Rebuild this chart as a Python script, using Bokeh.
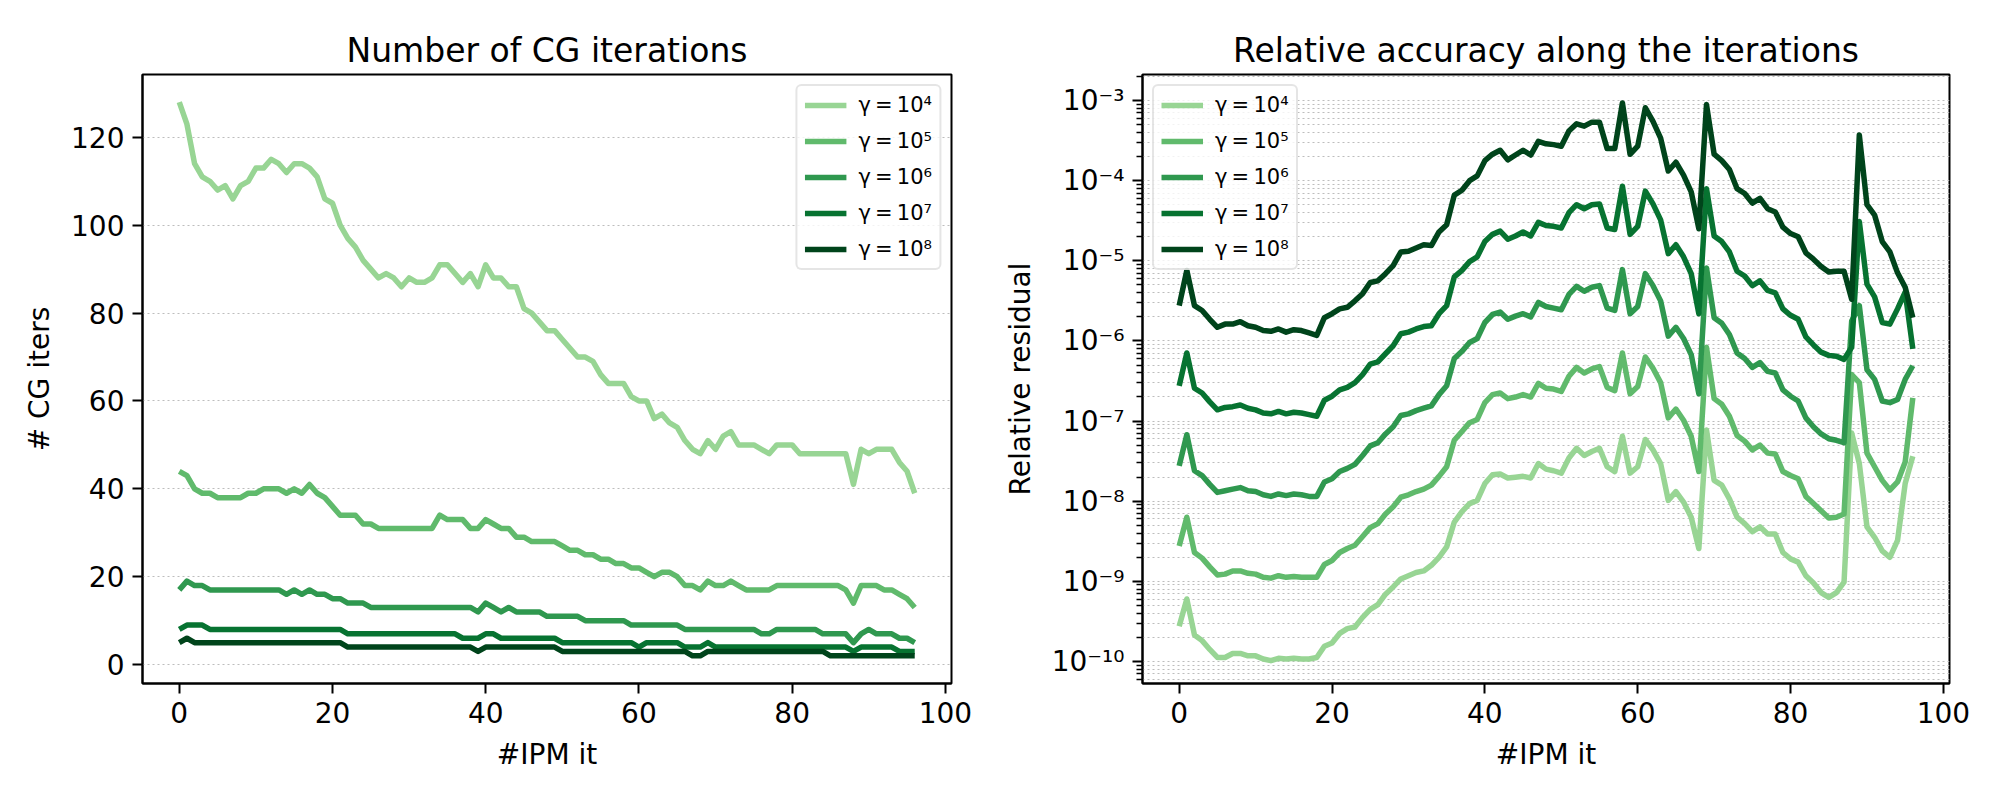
from bokeh.plotting import figure
from bokeh.layouts import row
from bokeh.models import Range1d, FixedTicker, CustomJSTickFormatter
from bokeh.embed import file_html
from bokeh.resources import INLINE

FONT = "DejaVu Sans"

# ---------------- data ----------------
ipm_it = list(range(97))

series_labels = ["γ\u2009=\u200910⁴", "γ\u2009=\u200910⁵", "γ\u2009=\u200910⁶",
                 "γ\u2009=\u200910⁷", "γ\u2009=\u200910⁸"]
series_colors = ["#98d594", "#60ba6c", "#2f984f", "#077331", "#00441b"]

# Number of CG iterations per IPM iteration
cg_g4 = [128, 123, 114, 111, 110, 108, 109, 106, 109, 110,
         113, 113, 115, 114, 112, 114, 114, 113, 111, 106,
         105, 100, 97, 95, 92, 90, 88, 89, 88, 86,
         88, 87, 87, 88, 91, 91, 89, 87, 89, 86,
         91, 88, 88, 86, 86, 81, 80, 78, 76, 76,
         74, 72, 70, 70, 69, 66, 64, 64, 64, 61,
         60, 60, 56, 57, 55, 54, 51, 49, 48, 51,
         49, 52, 53, 50, 50, 50, 49, 48, 50, 50,
         50, 48, 48, 48, 48, 48, 48, 48, 41, 49,
         48, 49, 49, 49, 46, 44, 39]
cg_g5 = [44, 43, 40, 39, 39, 38, 38, 38, 38, 39,
         39, 40, 40, 40, 39, 40, 39, 41, 39, 38,
         36, 34, 34, 34, 32, 32, 31, 31, 31, 31,
         31, 31, 31, 31, 34, 33, 33, 33, 31, 31,
         33, 32, 31, 31, 29, 29, 28, 28, 28, 28,
         27, 26, 26, 25, 25, 24, 24, 23, 23, 22,
         22, 21, 20, 21, 21, 20, 18, 18, 17, 19,
         18, 18, 19, 18, 17, 17, 17, 17, 18, 18,
         18, 18, 18, 18, 18, 18, 18, 17, 14, 18,
         18, 18, 17, 17, 16, 15, 13]
cg_g6 = [17, 19, 18, 18, 17, 17, 17, 17, 17, 17,
         17, 17, 17, 17, 16, 17, 16, 17, 16, 16,
         15, 15, 14, 14, 14, 13, 13, 13, 13, 13,
         13, 13, 13, 13, 13, 13, 13, 13, 13, 12,
         14, 13, 12, 13, 12, 12, 12, 12, 11, 11,
         11, 11, 11, 10, 10, 10, 10, 10, 10, 9,
         9, 9, 9, 9, 9, 9, 8, 8, 8, 8,
         8, 8, 8, 8, 8, 8, 7, 7, 8, 8,
         8, 8, 8, 8, 7, 7, 7, 7, 5, 7,
         8, 7, 7, 7, 6, 6, 5]
cg_g7 = [8, 9, 9, 9, 8, 8, 8, 8, 8, 8,
         8, 8, 8, 8, 8, 8, 8, 8, 8, 8,
         8, 8, 7, 7, 7, 7, 7, 7, 7, 7,
         7, 7, 7, 7, 7, 7, 7, 6, 6, 6,
         7, 7, 6, 6, 6, 6, 6, 6, 6, 6,
         5, 5, 5, 5, 5, 5, 5, 5, 5, 5,
         4, 5, 5, 5, 5, 5, 4, 4, 4, 5,
         4, 4, 4, 4, 4, 4, 4, 4, 4, 4,
         4, 4, 4, 4, 4, 4, 4, 4, 3, 4,
         4, 4, 4, 4, 3, 3, 3]
cg_g8 = [5, 6, 5, 5, 5, 5, 5, 5, 5, 5,
         5, 5, 5, 5, 5, 5, 5, 5, 5, 5,
         5, 5, 4, 4, 4, 4, 4, 4, 4, 4,
         4, 4, 4, 4, 4, 4, 4, 4, 4, 3,
         4, 4, 4, 4, 4, 4, 4, 4, 4, 4,
         3, 3, 3, 3, 3, 3, 3, 3, 3, 3,
         3, 3, 3, 3, 3, 3, 3, 2, 2, 3,
         3, 3, 3, 3, 3, 3, 3, 3, 3, 3,
         3, 3, 3, 3, 3, 2, 2, 2, 2, 2,
         2, 2, 2, 2, 2, 2, 2]

# log10 of the relative residual per IPM iteration
log_res_g4 = [-9.56, -9.22, -9.67, -9.74, -9.85, -9.95, -9.95, -9.90, -9.90, -9.93,
              -9.93, -9.97, -9.99, -9.96, -9.97, -9.96, -9.97, -9.97, -9.95, -9.81,
              -9.77, -9.65, -9.59, -9.57, -9.45, -9.35, -9.29, -9.16, -9.07, -8.97,
              -8.93, -8.89, -8.87, -8.80, -8.70, -8.57, -8.26, -8.13, -8.03, -7.99,
              -7.78, -7.67, -7.66, -7.71, -7.70, -7.69, -7.71, -7.53, -7.60, -7.62,
              -7.65, -7.46, -7.34, -7.43, -7.38, -7.34, -7.57, -7.63, -7.19, -7.65,
              -7.57, -7.23, -7.36, -7.53, -7.99, -7.88, -8.01, -8.20, -8.59, -7.11,
              -7.74, -7.80, -7.97, -8.20, -8.28, -8.38, -8.32, -8.41, -8.41, -8.64,
              -8.72, -8.76, -8.93, -9.02, -9.14, -9.20, -9.14, -9.01, -7.15, -7.53,
              -8.32, -8.45, -8.62, -8.70, -8.49, -7.78, -7.44]
log_res_g5 = [-8.56, -8.20, -8.64, -8.71, -8.82, -8.92, -8.91, -8.87, -8.87, -8.90,
              -8.91, -8.95, -8.96, -8.93, -8.95, -8.94, -8.95, -8.95, -8.95, -8.79,
              -8.74, -8.64, -8.59, -8.55, -8.44, -8.33, -8.28, -8.16, -8.07, -7.95,
              -7.92, -7.88, -7.85, -7.80, -7.69, -7.57, -7.24, -7.13, -7.02, -6.98,
              -6.77, -6.67, -6.65, -6.72, -6.70, -6.67, -6.70, -6.53, -6.59, -6.60,
              -6.63, -6.44, -6.33, -6.40, -6.35, -6.32, -6.58, -6.62, -6.15, -6.66,
              -6.57, -6.20, -6.34, -6.52, -6.96, -6.85, -6.99, -7.19, -7.63, -6.08,
              -6.72, -6.79, -6.94, -7.18, -7.25, -7.36, -7.30, -7.40, -7.41, -7.63,
              -7.68, -7.72, -7.94, -8.03, -8.12, -8.21, -8.20, -8.16, -6.42, -6.52,
              -7.40, -7.57, -7.74, -7.86, -7.76, -7.51, -6.71]
log_res_g6 = [-7.56, -7.17, -7.62, -7.68, -7.79, -7.89, -7.87, -7.85, -7.83, -7.87,
              -7.88, -7.92, -7.94, -7.91, -7.93, -7.91, -7.92, -7.94, -7.94, -7.76,
              -7.72, -7.63, -7.59, -7.54, -7.43, -7.31, -7.27, -7.16, -7.07, -6.93,
              -6.91, -6.87, -6.84, -6.81, -6.67, -6.56, -6.22, -6.13, -6.02, -5.97,
              -5.77, -5.67, -5.64, -5.73, -5.69, -5.66, -5.70, -5.52, -5.57, -5.59,
              -5.61, -5.42, -5.32, -5.38, -5.33, -5.31, -5.59, -5.62, -5.11, -5.66,
              -5.57, -5.16, -5.31, -5.50, -5.94, -5.83, -5.97, -6.17, -6.66, -5.09,
              -5.71, -5.78, -5.92, -6.15, -6.22, -6.33, -6.27, -6.38, -6.40, -6.61,
              -6.69, -6.75, -6.96, -7.07, -7.16, -7.22, -7.24, -7.27, -5.75, -5.56,
              -6.36, -6.48, -6.75, -6.77, -6.73, -6.48, -6.31]
log_res_g7 = [-6.56, -6.15, -6.59, -6.65, -6.76, -6.86, -6.83, -6.82, -6.80, -6.84,
              -6.86, -6.90, -6.91, -6.88, -6.91, -6.89, -6.90, -6.92, -6.94, -6.74,
              -6.69, -6.61, -6.58, -6.52, -6.42, -6.29, -6.26, -6.16, -6.06, -5.91,
              -5.89, -5.85, -5.82, -5.81, -5.66, -5.56, -5.20, -5.12, -5.01, -4.95,
              -4.76, -4.67, -4.63, -4.73, -4.69, -4.64, -4.69, -4.52, -4.56, -4.57,
              -4.59, -4.40, -4.30, -4.35, -4.30, -4.29, -4.59, -4.61, -4.07, -4.67,
              -4.57, -4.13, -4.29, -4.49, -4.91, -4.80, -4.95, -5.16, -5.66, -4.10,
              -4.69, -4.76, -4.89, -5.13, -5.19, -5.31, -5.25, -5.37, -5.40, -5.60,
              -5.68, -5.73, -5.95, -6.05, -6.14, -6.18, -6.19, -6.23, -6.08, -4.51,
              -5.29, -5.45, -5.77, -5.79, -5.60, -5.39, -6.10]
log_res_g8 = [-5.56, -5.12, -5.56, -5.62, -5.73, -5.83, -5.79, -5.79, -5.76, -5.81,
              -5.83, -5.87, -5.88, -5.85, -5.89, -5.86, -5.87, -5.90, -5.93, -5.71,
              -5.66, -5.60, -5.58, -5.50, -5.41, -5.27, -5.25, -5.16, -5.06, -4.89,
              -4.88, -4.84, -4.80, -4.81, -4.64, -4.55, -4.18, -4.12, -4.00, -3.94,
              -3.75, -3.67, -3.62, -3.74, -3.68, -3.62, -3.68, -3.51, -3.54, -3.55,
              -3.57, -3.38, -3.29, -3.32, -3.27, -3.27, -3.60, -3.60, -3.03, -3.67,
              -3.57, -3.09, -3.26, -3.47, -3.88, -3.77, -3.93, -4.14, -4.60, -3.05,
              -3.67, -3.75, -3.86, -4.10, -4.16, -4.28, -4.22, -4.35, -4.39, -4.58,
              -4.66, -4.70, -4.90, -4.98, -5.07, -5.14, -5.13, -5.13, -5.48, -3.43,
              -4.30, -4.43, -4.76, -4.89, -5.15, -5.33, -5.71]

x_ticks = [0, 20, 40, 60, 80, 100]
cg_ticks = [0, 20, 40, 60, 80, 100, 120]
res_decades = [-10, -9, -8, -7, -6, -5, -4, -3]

cg_series = [cg_g4, cg_g5, cg_g6, cg_g7, cg_g8]
res_series = [log_res_g4, log_res_g5, log_res_g6, log_res_g7, log_res_g8]

GRID_COLOR = "#bdbdbd"


def style_axes(p):
    p.outline_line_color = "black"
    p.outline_line_width = 2
    p.background_fill_color = "white"
    p.border_fill_color = "white"
    p.title.text_font = FONT
    p.title.text_font_size = "33px"
    p.title.text_font_style = "normal"
    p.title.text_color = "black"
    p.title.align = "center"
    p.title.standoff = 9
    for ax in p.axis:
        ax.axis_line_width = 2
        ax.axis_line_color = "black"
        ax.major_tick_line_width = 2
        ax.major_tick_line_color = "black"
        ax.major_tick_out = 10
        ax.major_tick_in = 0
        ax.minor_tick_out = 0
        ax.minor_tick_in = 0
        ax.major_label_text_font = FONT
        ax.major_label_text_font_size = "28px"
        ax.major_label_text_color = "black"
        ax.major_label_standoff = 8
        ax.axis_label_text_font = FONT
        ax.axis_label_text_font_size = "28px"
        ax.axis_label_text_font_style = "normal"
        ax.axis_label_text_color = "black"
        ax.axis_label_standoff = 12
    p.xgrid.visible = False
    p.ygrid.grid_line_color = GRID_COLOR
    p.ygrid.grid_line_width = 1.2
    p.ygrid.grid_line_dash = "2 3"


def style_legend(p, location):
    lg = p.legend[0]
    lg.location = location
    lg.label_text_font = FONT
    lg.label_text_font_size = "21px"
    lg.label_text_color = "black"
    lg.glyph_width = 42
    lg.glyph_height = 22
    lg.label_height = 22
    lg.label_standoff = 12
    lg.spacing = 12
    lg.padding = 7
    lg.margin = 10
    lg.border_line_color = "#cccccc"
    lg.border_line_width = 2
    lg.background_fill_color = "white"
    lg.background_fill_alpha = 0.8
    try:
        lg.border_radius = 6
    except Exception:
        pass


# ---------------- left: CG iterations ----------------
p1 = figure(width=1000, height=800, output_backend="svg", toolbar_location=None,
            title="Number of CG iterations",
            x_range=Range1d(-4.8, 100.8), y_range=Range1d(-4.3, 134.3),
            min_border_left=142, min_border_right=49,
            min_border_top=74, min_border_bottom=117)
for vals, col, lab in zip(cg_series, series_colors, series_labels):
    p1.line(ipm_it, vals, line_color=col, line_width=5.5, line_join="round",
            legend_label=lab)
style_axes(p1)
p1.xaxis.ticker = FixedTicker(ticks=x_ticks)
yt1 = FixedTicker(ticks=cg_ticks)
p1.yaxis.ticker = yt1
p1.ygrid.ticker = yt1
p1.xaxis.axis_label = "#IPM it"
p1.yaxis.axis_label = "# CG iters"
style_legend(p1, "top_right")

# ---------------- right: relative residual ----------------
p2 = figure(width=1000, height=800, output_backend="svg", toolbar_location=None,
            title="Relative accuracy along the iterations",
            y_axis_type="log",
            x_range=Range1d(-4.8, 100.8),
            y_range=Range1d(10 ** -10.275, 10 ** -2.675),
            min_border_left=138, min_border_right=51,
            min_border_top=74, min_border_bottom=117)
for vals, col, lab in zip(res_series, series_colors, series_labels):
    p2.line(ipm_it, [10 ** v for v in vals], line_color=col, line_width=5.5,
            line_join="round", legend_label=lab)
style_axes(p2)
p2.xaxis.ticker = FixedTicker(ticks=x_ticks)
major = [10.0 ** e for e in res_decades]
minor = [k * 10.0 ** e for e in range(-11, -2) for k in range(2, 10)]
yt2 = FixedTicker(ticks=major, minor_ticks=minor)
p2.yaxis.ticker = yt2
p2.ygrid.ticker = yt2
p2.yaxis.minor_tick_out = 6
p2.yaxis.minor_tick_line_width = 1.5
p2.yaxis.minor_tick_line_color = "black"
p2.yaxis.formatter = CustomJSTickFormatter(code="""
    const e = Math.round(Math.log10(tick));
    const sup = {'-': '\u207b', '0': '\u2070', '1': '\u00b9', '2': '\u00b2', '3': '\u00b3',
                 '4': '\u2074', '5': '\u2075', '6': '\u2076', '7': '\u2077', '8': '\u2078', '9': '\u2079'};
    return '10' + String(e).split('').map(c => sup[c]).join('');
""")
p2.ygrid.minor_grid_line_color = GRID_COLOR
p2.ygrid.minor_grid_line_width = 1.2
p2.ygrid.minor_grid_line_dash = "2 3"
p2.xaxis.axis_label = "#IPM it"
p2.yaxis.axis_label = "Relative residual"
style_legend(p2, "top_left")

layout = row(p1, p2, spacing=0)
open("out.html", "w").write(file_html(layout, INLINE))
